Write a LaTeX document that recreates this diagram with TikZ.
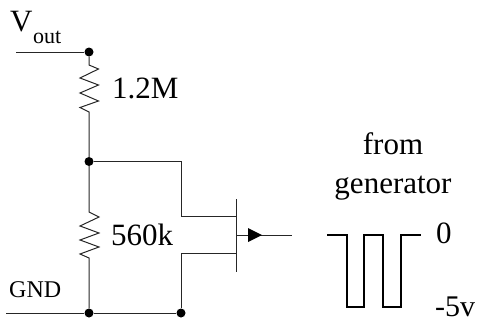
\documentclass[tikz,border=0pt]{standalone}
\usepackage{fontspec}
\setmainfont{Liberation Serif}
\tikzset{
  wire/.style={draw=black!85,line width=1pt,line join=miter},
  junction/.style={circle,fill=black,inner sep=0pt,minimum size=9pt},
  lab/.style={inner sep=0pt,anchor=base west,font=\fontsize{31}{31}\selectfont},
  sublab/.style={inner sep=0pt,anchor=base west,font=\fontsize{22}{22}\selectfont},
  gndlab/.style={inner sep=0pt,anchor=base west,font=\fontsize{24}{24}\selectfont},
  wave/.style={draw=black,line width=2.4pt,line join=miter}
}
\begin{document}
\begin{tikzpicture}[x=1pt,y=-1pt]
\useasboundingbox (0,0) rectangle (478,321);
% junctions
\node[junction] (top) at (89,52) {};
\node[junction] (mid) at (89,161.5) {};
\node[junction] (gnda) at (89,313) {};
\node[junction] (gndb) at (181,313) {};
% free ends
\coordinate (voutend) at (16,52);
\coordinate (gndend) at (6,313);
\coordinate (dcorner) at (181.5,161.5);
\coordinate (d) at (236,216);
\coordinate (scorner) at (181,253);
\coordinate (s) at (236,253);
\coordinate (gtop) at (236,199);
\coordinate (gbot) at (236,272);
\coordinate (gmid) at (236,235);
\coordinate (gend) at (292,235);
% wires
\draw[wire] (voutend) -- (top);
\draw[wire] (top) -- (89,65) -- (98.5,69) -- (80,78) -- (98.5,85) -- (80,93) -- (98.5,101) -- (80,107.5) -- (89,112) -- (mid);
\draw[wire] (mid) -- (89,212) -- (99,217) -- (80,226) -- (99,233) -- (80,240) -- (99,247) -- (80,254) -- (89,258) -- (gnda);
\draw[wire] (mid) -- (dcorner) -- (181.5,216) -- (d);
\draw[wire] (gndb) -- (scorner) -- (s);
\draw[wire] (gndend) -- (gnda) -- (gndb);
\draw[wire] (gtop) -- (gbot);
\draw[wire] (gmid) -- (gend);
\fill[black] (248,228) -- (262,235) -- (248,242) -- cycle;
% pulse
\draw[wave] (327,235) -- (347,235) -- (347,307) -- (364,307) -- (364,235) -- (383,235) -- (383,307) -- (401,307) -- (401,235) -- (421,235);
% labels
\node[lab] (v) at (10,32) {V};
\node[sublab] (out) at (33,43) {out};
\node[lab] (r1) at (112,98) {1.2M};
\node[lab] (r2) at (111,245) {560k};
\node[gndlab] (gnd) at (9,297) {GND};
\node[lab,anchor=base] (from) at (393,154) {from};
\node[lab,anchor=base] (gen) at (393,193) {generator};
\node[lab] (zero) at (436,243) {0};
\node[lab,font=\fontsize{30}{30}\selectfont] (minus) at (435,316) {-5v};
\end{tikzpicture}
\end{document}
